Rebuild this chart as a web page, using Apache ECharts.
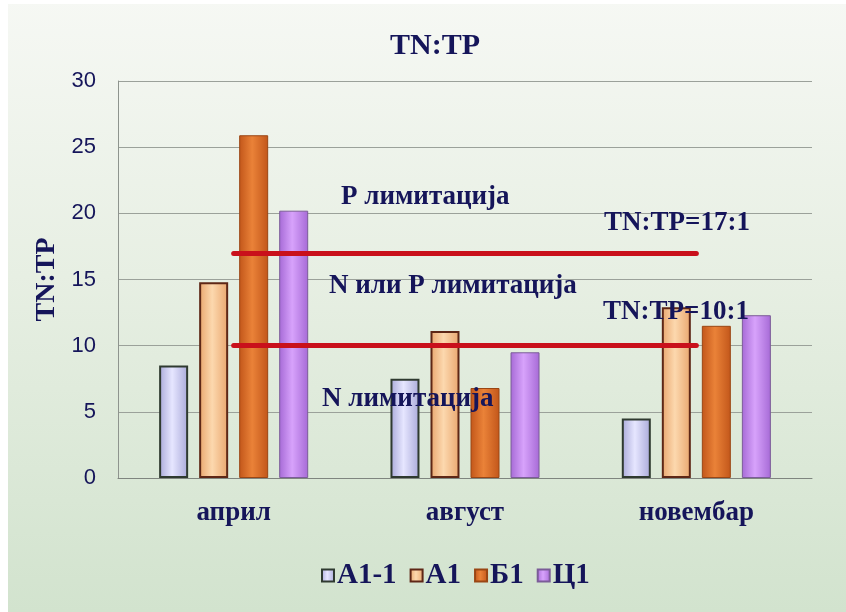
<!DOCTYPE html>
<html>
<head>
<meta charset="utf-8">
<script src="https://cdn.jsdelivr.net/npm/echarts@6/dist/echarts.min.js"></script>
<style>
  html, body { margin: 0; padding: 0; background: #fff; }
  #chart {
    width: 846px; height: 612px;
    background:
      linear-gradient(to right, #fff 0 8px, transparent 8px),
      linear-gradient(#fff 0 4px, transparent 4px),
      linear-gradient(#f6f8f4 0%, #e7efe3 45%, #d2e3ce 100%);
  }
</style>
</head>
<body>
<div id="chart"></div>
<script>
// categories and series values
const categories = ["април", "август", "новембар"];
const seriesNames = ["А1-1", "А1", "Б1", "Ц1"];
const a11 = [8.5, 7.5, 4.5];
const a1 = [14.8, 11.1, 12.9];
const b1 = [25.9, 6.8, 11.5];
const c1 = [20.2, 9.5, 12.3];
const limitRatios = [17, 10];
const yTicks = { min: 0, max: 30, interval: 5 };

const navy = "#15155a";
const serif = "'Liberation Serif', 'Times New Roman', serif";

// cylinder-ish horizontal gradient for each bar series
const cyl = (edge, mid) => new echarts.graphic.LinearGradient(0, 0, 1, 0, [
    { offset: 0, color: edge },
    { offset: 0.45, color: mid },
    { offset: 1, color: edge },
]);

const styles = [
    { color: cyl("#a9a9d9", "#e6e6ff"), borderColor: "#2f3a30", borderWidth: 2 },
    { color: cyl("#e9a66e", "#fcd8ae"), borderColor: "#5e2716", borderWidth: 2 },
    { color: cyl("#c2561a", "#ea8238"), borderColor: "#9a4614", borderWidth: 1 },
    { color: cyl("#a66ad6", "#d7a2fb"), borderColor: "#7b5c98", borderWidth: 1 },
];

const values = [a11, a1, b1, c1];

const chart = echarts.init(document.getElementById("chart"));

const series = seriesNames.map((name, i) => ({
    name,
    type: "bar",
    data: values[i],
    barWidth: 29,
    barGap: "38%",
    itemStyle: styles[i],
}));

// threshold lines TN:TP = 17:1 and 10:1, from the first to the last category centre
series.push({
    name: "limits",
    type: "line",
    data: [],
    markLine: {
        z: 5,
        silent: true,
        symbol: "none",
        label: { show: false },
        lineStyle: { color: "#c9101b", width: 5, type: "solid", cap: "round" },
        data: limitRatios.map(v => [
            { coord: [categories[0], v] },
            { coord: [categories[categories.length - 1], v] },
        ]),
    },
});

const txt = (text, x, y) => ({
    type: "text",
    x, y, z: 10,
    style: { text, font: "bold 27px " + serif, fill: navy, verticalAlign: "middle" },
});

chart.setOption({
    backgroundColor: "transparent",
    animation: false,
    title: {
        text: "TN:TP",
        left: 385,
        top: 26,
        textStyle: { fontFamily: serif, fontWeight: "bold", fontSize: 30, color: navy },
    },
    grid: { left: 118, right: 34, top: 81, bottom: 134, containLabel: false },
    legend: {
        left: 316,
        top: 556,
        itemWidth: 12,
        itemHeight: 12,
        itemGap: 13,
        icon: "rect",
        textStyle: { fontFamily: serif, fontWeight: "bold", fontSize: 29, color: navy, padding: [0, 0, 0, -2] },
        data: seriesNames,
    },
    xAxis: {
        type: "category",
        data: categories,
        axisTick: { show: false },
        axisLine: { lineStyle: { color: "#7f857f", width: 1 } },
        axisLabel: { margin: 22, fontFamily: serif, fontWeight: "bold", fontSize: 27, color: navy },
    },
    yAxis: {
        type: "value",
        min: yTicks.min,
        max: yTicks.max,
        interval: yTicks.interval,
        name: "TN:TP",
        nameLocation: "middle",
        nameGap: 48,
        nameTextStyle: { fontFamily: serif, fontWeight: "bold", fontSize: 28, color: navy },
        axisLine: { show: true, lineStyle: { color: "#8e948e" } },
        axisTick: { show: false },
        axisLabel: { margin: 22, fontFamily: "'Liberation Sans', Arial, sans-serif", fontSize: 22, color: navy },
        splitLine: { lineStyle: { color: "#9ba19a", width: 1 } },
    },
    graphic: [
        txt("P лимитација", 341, 197),
        txt("TN:TP=17:1", 604, 223),
        txt("N или P лимитација", 329, 286),
        txt("TN:TP=10:1", 603, 312),
        txt("N лимитација", 322, 399),
    ],
    series,
});
</script>
</body>
</html>
